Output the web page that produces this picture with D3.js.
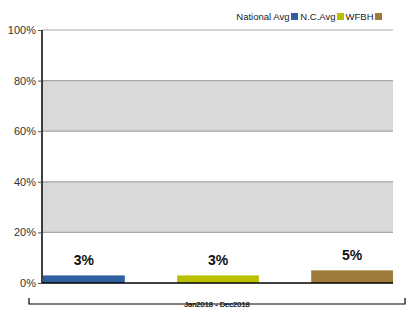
<!DOCTYPE html>
<html><head><meta charset="utf-8">
<script src="https://cdn.jsdelivr.net/npm/d3@7"></script>
<style>body{margin:0;background:#fff;}svg{display:block;font-family:Arial,"Liberation Sans",sans-serif;}</style>
</head><body>
<svg id="c" width="417" height="331"></svg>
<script>
const series = ["National Avg", "N.C.Avg", "WFBH"];
const values = [3, 3, 5];
const colors = ["#2f5f9f", "#bac000", "#9e7b3b"];
const yTicks = [0, 20, 40, 60, 80, 100];
const periodLabel = "Jan2018 - Dec2018";

(function () {
const svg = d3.select("#c");
const pLeft = 42, pRight = 393, pTop = 30, pBottom = 283;
const y = d3.scaleLinear().domain([0, 100]).range([pBottom, pTop]);
const x = d3.scaleBand().domain(series).range([pLeft + 1, pRight]).paddingInner(0.39).paddingOuter(0);

// bands
[[20, 40], [60, 80]].forEach(([a, b]) => {
  svg.append("rect").attr("x", pLeft).attr("y", y(b)).attr("width", pRight - pLeft).attr("height", y(a) - y(b)).attr("fill", "#d9d9d9");
});
// grid lines
yTicks.filter(t => t > 0).forEach(t => {
  svg.append("line").attr("x1", pLeft).attr("x2", pRight).attr("y1", y(t)).attr("y2", y(t)).attr("stroke", "#a6a6a6").attr("stroke-width", 1.2);
});

// bars
svg.selectAll(".bar").data(series).enter().append("rect")
  .attr("x", d => x(d)).attr("width", x.bandwidth())
  .attr("y", (d, i) => y(values[i])).attr("height", (d, i) => y(0) - y(values[i]))
  .attr("fill", (d, i) => colors[i]);
svg.selectAll(".lbl").data(series).enter().append("text")
  .attr("x", d => x(d) + x.bandwidth() / 2).attr("y", (d, i) => y(values[i]) - 10)
  .attr("text-anchor", "middle").attr("font-size", 14).attr("font-weight", "bold").attr("fill", "#111")
  .text((d, i) => values[i] + "%");

// y axis
const yAxis = d3.axisLeft(y).tickValues(yTicks).tickFormat(d => d + "%").tickSize(4).tickPadding(2);
const gy = svg.append("g").attr("transform", `translate(${pLeft},0)`).call(yAxis);
gy.select(".domain").attr("stroke", "#000").attr("stroke-width", 1.5).attr("d", `M0,${pTop}V${pBottom}`);
gy.selectAll(".tick line").attr("stroke", "#555");
gy.selectAll(".tick text").attr("font-size", 11).attr("fill", "#333").attr("font-family", "Arial,'Liberation Sans',sans-serif");

// x baseline
svg.append("line").attr("x1", pLeft).attr("x2", pRight).attr("y1", pBottom).attr("y2", pBottom).attr("stroke", "#000").attr("stroke-width", 1.5);

// bracket
const by = 304;
svg.append("path").attr("d", `M29,298V${by}H405V298`).attr("fill", "none").attr("stroke", "#000").attr("stroke-width", 1.2);
const pl = svg.append("text").attr("x", 217).attr("y", by + 3).attr("text-anchor", "middle")
  .attr("font-size", 7.5).attr("fill", "#000").attr("stroke", "#000").attr("stroke-width", 0.2).text(periodLabel);
const bb = pl.node().getBBox();
svg.insert("rect", "text").attr("x", bb.x - 4).attr("y", by - 3).attr("width", bb.width + 8).attr("height", 6).attr("fill", "#fff");

// legend (laid out right to left)
const legSq = [291, 337, 375];
series.forEach((s, i) => {
  svg.append("text").attr("x", legSq[i] - 1.5).attr("y", 20).attr("font-size", 9.5).attr("fill", "#222")
    .attr("text-anchor", "end").attr("font-family", "Arial,'Liberation Sans',sans-serif").text(s);
  svg.append("rect").attr("x", legSq[i]).attr("y", 13).attr("width", 7).attr("height", 7).attr("fill", colors[i]);
});
})();
</script>
</body></html>
